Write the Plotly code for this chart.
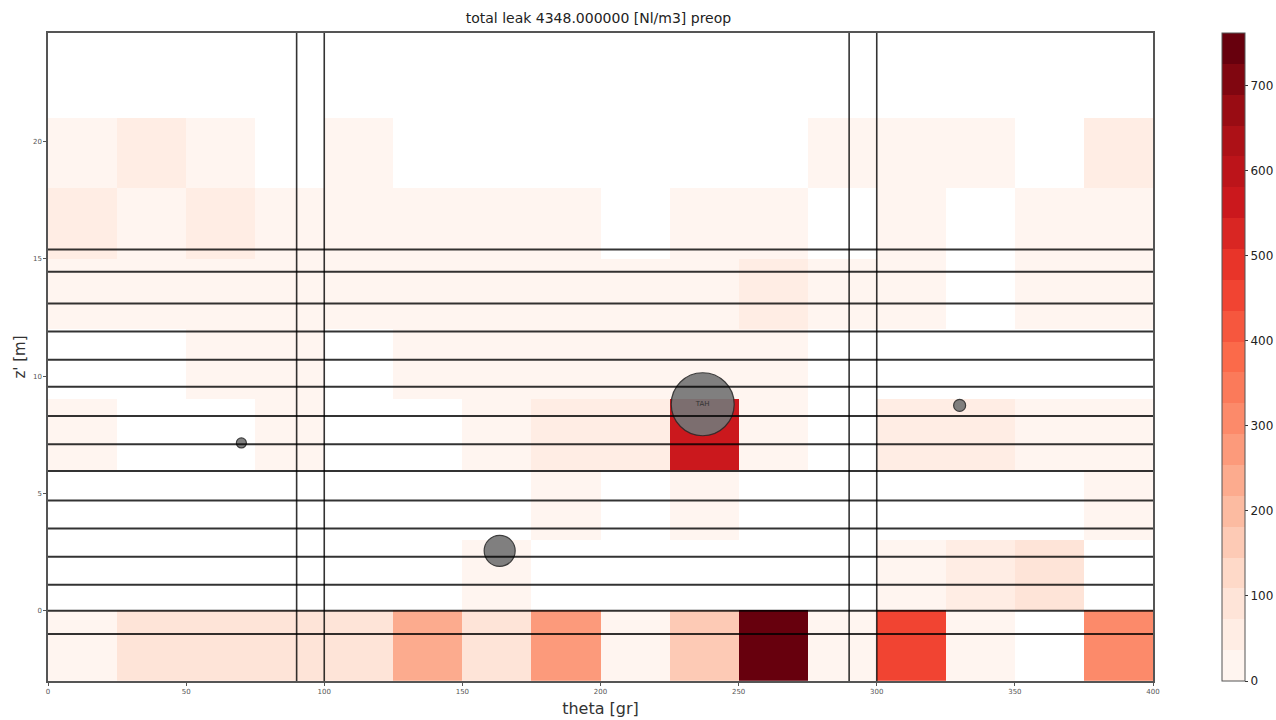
import plotly.graph_objects as go

# Grid edges: theta in grads, z' in metres
theta_edges = [0, 25, 50, 75, 100, 125, 150, 175, 200, 225, 250, 275, 300, 325, 350, 375, 400]
z_edges = [-3, 0, 3, 6, 9, 12, 15, 18, 21, 24]

# Leak per cell [Nl/m3], one list per z band (bottom to top), 16 theta sectors each
leak_m3_0 = [20, 100, 100, 100, 100, 250, 75, 270, 20, 175, 762, 20, 465, 20, 0, 305]
leak_0_3 = [0, 0, 0, 0, 0, 0, 15, 0, 0, 0, 0, 0, 15, 50, 80, 0]
leak_3_6 = [0, 0, 0, 0, 0, 0, 0, 15, 0, 15, 0, 0, 0, 0, 0, 15]
leak_6_9 = [15, 0, 0, 15, 0, 0, 15, 45, 45, 580, 15, 0, 45, 45, 15, 15]
leak_9_12 = [0, 0, 15, 15, 0, 15, 15, 15, 15, 15, 15, 0, 0, 0, 0, 0]
leak_12_15 = [15, 15, 15, 15, 15, 15, 15, 15, 15, 15, 45, 15, 15, 0, 15, 15]
leak_15_18 = [45, 15, 45, 15, 15, 15, 15, 15, 0, 15, 15, 0, 15, 0, 15, 15]
leak_18_21 = [15, 45, 15, 0, 15, 0, 0, 0, 0, 0, 0, 15, 15, 15, 0, 45]
leak_21_24 = [0] * 16

# Structural joints
ring_z = [-1.0, 0.0, 1.1, 2.3, 3.5, 4.7, 5.95, 7.1, 8.3, 9.55, 10.7, 11.9, 13.1, 14.45, 15.4]
column_theta = [90, 100, 290, 300]

# Nozzles / penetrations
nozzle_theta = [70, 163.5, 237, 330]
nozzle_z = [7.15, 2.55, 8.8, 8.75]
nozzle_size = [10, 31, 63, 12]
nozzle_label = ["", "", "TAH", ""]

title_text = "total leak 4348.000000 [Nl/m3] preop"
zmax = 762
n_levels = 21
z_top = 24.63

rows = [leak_m3_0, leak_0_3, leak_3_6, leak_6_9, leak_9_12,
        leak_12_15, leak_15_18, leak_18_21, leak_21_24]
z_grid = [[v if v > 0 else None for v in r] for r in rows]

# Discretised "Reds" colour map
reds = ["#fff5f0", "#fee0d2", "#fcbba1", "#fc9272", "#fb6a4a",
        "#ef3b2c", "#cb181d", "#a50f15", "#67000d"]


def hex_rgb(h):
    return tuple(int(h[i:i + 2], 16) for i in (1, 3, 5))


def reds_at(t):
    pos = t * (len(reds) - 1)
    i = min(int(pos), len(reds) - 2)
    f = pos - i
    a, b = hex_rgb(reds[i]), hex_rgb(reds[i + 1])
    c = [round(a[k] + (b[k] - a[k]) * f) for k in range(3)]
    return f"rgb({c[0]},{c[1]},{c[2]})"


colorscale = []
for k in range(n_levels):
    col = reds_at(k / (n_levels - 1))
    colorscale.append([k / n_levels, col])
    colorscale.append([(k + 1) / n_levels, col])

fig = go.Figure()

fig.add_trace(go.Heatmap(
    x=theta_edges, y=z_edges, z=z_grid,
    zmin=0, zmax=zmax, colorscale=colorscale,
    xgap=0, ygap=0, hoverongaps=False,
    colorbar=dict(
        x=1.0624, xanchor="left", xref="paper", xpad=0,
        y=0.5, yanchor="middle", len=1.0, lenmode="fraction", ypad=0,
        thickness=23, outlinewidth=1, outlinecolor="#555555",
        tickvals=[0, 100, 200, 300, 400, 500, 600, 700],
        ticks="outside", ticklen=3, tickcolor="#333333",
        tickfont=dict(family="DejaVu Sans", size=12, color="#222222"),
    ),
))

fig.add_trace(go.Scatter(
    x=nozzle_theta, y=nozzle_z, mode="markers",
    marker=dict(size=nozzle_size, color="rgb(118,118,118)", opacity=0.92,
                line=dict(color="rgb(45,45,45)", width=1.2)),
    showlegend=False, hoverinfo="skip"))

# Horizontal joints
for zz in ring_z:
    fig.add_trace(go.Scatter(
        x=[theta_edges[0], theta_edges[-1]], y=[zz, zz], mode="lines",
        line=dict(color="rgba(0,0,0,0.8)", width=2), showlegend=False,
        hoverinfo="skip"))

# Vertical joints
for tt in column_theta:
    fig.add_trace(go.Scatter(
        x=[tt, tt], y=[z_edges[0], z_top], mode="lines",
        line=dict(color="rgba(0,0,0,0.8)", width=1.6), showlegend=False,
        hoverinfo="skip"))

# Nozzle labels on top of the joint lines
fig.add_trace(go.Scatter(
    x=nozzle_theta, y=nozzle_z, mode="text",
    text=nozzle_label, textposition="middle center",
    textfont=dict(family="DejaVu Sans", size=7, color="#333333"),
    showlegend=False, hoverinfo="skip"))

fig.update_layout(
    width=1276, height=720,
    margin=dict(l=48, r=123, t=33, b=39, autoexpand=False),
    paper_bgcolor="white", plot_bgcolor="white",
    title=dict(text=title_text, x=0.469, xanchor="center", y=0.975, yanchor="middle",
               font=dict(family="DejaVu Sans", size=14, color="#222222")),
    font=dict(family="DejaVu Sans"),
    showlegend=False,
)

fig.update_xaxes(
    range=[0, 400], tickvals=[0, 50, 100, 150, 200, 250, 300, 350, 400],
    ticks="outside", ticklen=3, tickcolor="#555555",
    tickfont=dict(size=7, color="#555555"),
    showgrid=False, zeroline=False,
    showline=True, linecolor="#555555", linewidth=1.5, mirror=True,
    title=dict(text="theta [gr]", font=dict(size=16, color="#333333"), standoff=8),
)
fig.update_yaxes(
    range=[z_edges[0], z_top], tickvals=[0, 5, 10, 15, 20],
    ticks="outside", ticklen=3, tickcolor="#555555",
    tickfont=dict(size=7, color="#555555"),
    showgrid=False, zeroline=False,
    showline=True, linecolor="#555555", linewidth=1.5, mirror=True,
    title=dict(text="z' [m]", font=dict(size=15, color="#333333"), standoff=4),
)

fig.write_html("out.html")
